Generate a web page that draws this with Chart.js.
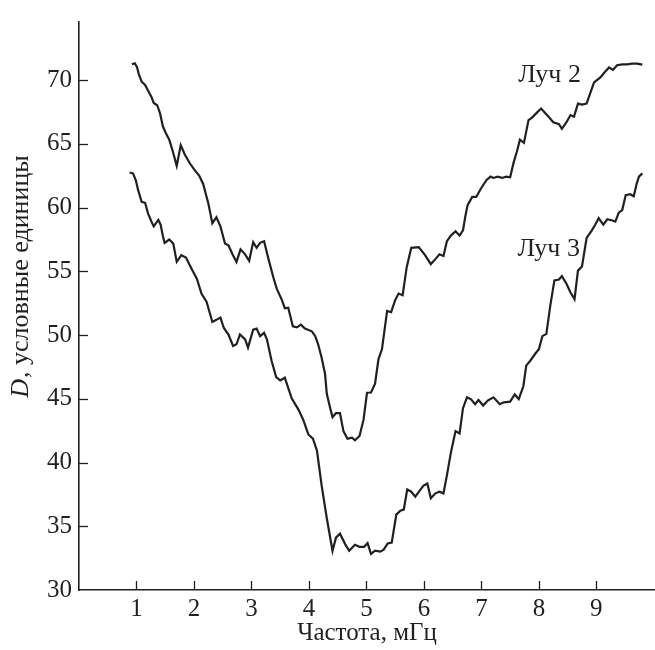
<!DOCTYPE html>
<html><head><meta charset="utf-8">
<script src="https://cdn.jsdelivr.net/npm/chart.js@4.4.1/dist/chart.umd.min.js"></script>
<style>html,body{margin:0;padding:0;background:#fff;}#wrap{width:655px;height:650px;position:relative;}</style>
</head><body><div id="wrap"><canvas id="c" width="655" height="650"></canvas></div>
<script>
const xTicks = [1,2,3,4,5,6,7,8,9];
const yTicks = [30,35,40,45,50,55,60,65,70];
const seriesNames = ['Луч 2','Луч 3'];
const xTitle = 'Частота, мГц';
const yTitleItalic = 'D';
const yTitleRest = ', условные единицы';

const beam2X = [0.92,0.97,1.01,1.04,1.09,1.15,1.2,1.26,1.3,1.36,
1.41,1.46,1.51,1.57,1.63,1.7,1.77,1.84,1.93,2.02,
2.09,2.16,2.25,2.32,2.39,2.46,2.54,2.6,2.67,2.74,
2.81,2.89,2.96,3.03,3.09,3.15,3.22,3.29,3.38,3.44,
3.53,3.58,3.64,3.72,3.79,3.86,3.93,4.05,4.11,4.16,
4.22,4.28,4.31,4.37,4.41,4.47,4.54,4.6,4.67,4.75,
4.8,4.88,4.95,5.01,5.08,5.15,5.21,5.27,5.36,5.43,
5.5,5.56,5.63,5.7,5.78,5.91,6.02,6.12,6.2,6.27,
6.34,6.4,6.47,6.55,6.62,6.68,6.72,6.76,6.84,6.91,
6.99,7.09,7.16,7.21,7.28,7.36,7.43,7.5,7.56,7.62,
7.67,7.74,7.82,7.88,7.97,8.04,8.1,8.17,8.25,8.35,
8.4,8.48,8.55,8.61,8.68,8.75,8.83,8.9,8.96,9.07,
9.14,9.22,9.29,9.36,9.45,9.54,9.62,9.71,9.8];
const beam2Y = [71.23,71.31,71.0,70.46,69.87,69.61,69.17,68.67,68.2,68.02,
67.38,66.35,65.84,65.32,64.43,63.27,64.89,64.16,63.45,62.89,
62.5,61.85,60.31,58.77,59.23,58.52,57.18,57.03,56.33,55.74,
56.72,56.33,55.82,57.28,56.84,57.23,57.36,56.07,54.53,53.64,
52.74,52.1,52.14,50.68,50.6,50.81,50.5,50.29,49.91,49.27,
48.24,46.96,45.41,44.26,43.56,43.87,43.87,42.46,41.87,41.95,
41.74,42.08,43.36,45.47,45.49,46.18,48.11,48.88,51.89,51.79,
52.74,53.25,53.12,55.3,56.84,56.9,56.26,55.56,55.95,56.33,
56.2,57.36,57.8,58.13,57.8,58.21,59.29,60.19,60.83,60.83,
61.47,62.16,62.42,62.32,62.42,62.32,62.42,62.37,63.52,64.43,
65.32,65.07,66.86,67.05,67.46,67.76,67.46,67.12,66.69,66.53,
66.17,66.69,67.25,67.12,68.15,68.07,68.15,69.05,69.82,70.21,
70.59,70.98,70.79,71.16,71.23,71.23,71.29,71.29,71.21];

const beam3X = [0.88,0.94,0.99,1.03,1.09,1.15,1.2,1.26,1.3,1.38,
1.42,1.46,1.49,1.57,1.64,1.7,1.78,1.86,1.96,2.05,
2.13,2.22,2.32,2.39,2.46,2.52,2.6,2.68,2.74,2.8,
2.89,2.94,3.03,3.09,3.15,3.22,3.27,3.35,3.43,3.5,
3.58,3.7,3.82,3.9,3.99,4.07,4.14,4.22,4.31,4.41,
4.47,4.54,4.63,4.7,4.8,4.88,4.96,5.02,5.08,5.15,
5.24,5.3,5.37,5.44,5.52,5.59,5.65,5.71,5.78,5.85,
5.92,5.99,6.06,6.12,6.2,6.27,6.34,6.4,6.47,6.55,
6.62,6.68,6.75,6.82,6.89,6.95,7.03,7.11,7.21,7.32,
7.39,7.5,7.58,7.65,7.73,7.78,7.85,7.94,8.0,8.06,
8.13,8.2,8.27,8.35,8.4,8.48,8.55,8.62,8.68,8.75,
8.83,8.91,8.98,9.04,9.12,9.19,9.28,9.33,9.39,9.45,
9.51,9.59,9.65,9.7,9.74,9.8];
const beam3Y = [62.75,62.68,62.11,61.34,60.44,60.37,59.54,58.9,58.52,59.03,
58.65,57.75,57.23,57.49,57.18,55.74,56.26,56.07,55.18,54.41,
53.25,52.6,51.02,51.19,51.37,50.55,50.04,49.14,49.27,50.04,
49.65,49.01,50.42,50.5,49.91,50.17,49.65,47.98,46.7,46.44,
46.65,45.03,44.13,43.36,42.2,41.87,40.92,38.22,35.65,33.08,
34.11,34.42,33.6,33.08,33.55,33.39,33.39,33.68,32.83,33.08,
33.01,33.16,33.65,33.72,35.91,36.22,36.3,37.88,37.71,37.32,
37.76,38.17,38.35,37.19,37.58,37.71,37.58,38.99,40.79,42.46,
42.28,44.26,45.11,44.95,44.57,44.9,44.47,44.85,45.11,44.57,
44.72,44.77,45.34,44.97,45.98,47.6,47.98,48.55,48.88,49.91,
50.09,52.35,54.28,54.35,54.61,54.02,53.33,52.81,55.05,55.38,
57.61,58.13,58.65,59.16,58.65,59.08,58.98,58.9,59.6,59.8,
60.96,61.04,60.88,61.85,62.42,62.68];

const INK = '#231f20';
const FONT = '"Liberation Serif", "Times New Roman", serif';
const toPts = (xs, ys) => xs.map((x, i) => ({x, y: ys[i]}));

// annotation anchors (data coordinates) for series labels
const labelAnchors = [{x: 7.643, y: 69.87}, {x: 7.626, y: 56.2}];

const decor = {
  id: 'decor',
  afterDraw(chart) {
    const ctx = chart.ctx, xs = chart.scales.x, ys = chart.scales.y, a = chart.chartArea;
    ctx.save();
    ctx.strokeStyle = INK; ctx.lineWidth = 1.3;
    xTicks.forEach(v => {
      const p = Math.round(xs.getPixelForValue(v)) + 0.5;
      ctx.beginPath(); ctx.moveTo(p, a.bottom); ctx.lineTo(p, a.bottom - 9); ctx.stroke();
    });
    yTicks.forEach(v => {
      if (v === ys.min) return;
      const p = Math.round(ys.getPixelForValue(v)) + 0.5;
      ctx.beginPath(); ctx.moveTo(a.left, p); ctx.lineTo(a.left + 9, p); ctx.stroke();
    });
    // series labels
    ctx.fillStyle = INK; ctx.font = '26px ' + FONT; ctx.textAlign = 'left'; ctx.textBaseline = 'alphabetic';
    seriesNames.forEach((n, i) => {
      ctx.fillText(n, xs.getPixelForValue(labelAnchors[i].x), ys.getPixelForValue(labelAnchors[i].y));
    });
    // y title
    ctx.translate(21, 277);
    ctx.rotate(-Math.PI / 2);
    ctx.textBaseline = 'middle';
    ctx.font = 'italic 26px ' + FONT;
    const w1 = ctx.measureText(yTitleItalic).width;
    ctx.font = '26px ' + FONT;
    const w2 = ctx.measureText(yTitleRest).width;
    const x0 = -(w1 + w2) / 2;
    ctx.font = 'italic 26px ' + FONT;
    ctx.fillText(yTitleItalic, x0, 0);
    ctx.font = '26px ' + FONT;
    ctx.fillText(yTitleRest, x0 + w1 + 1, 0);
    ctx.restore();
  }
};

new Chart(document.getElementById('c'), {
  type: 'line',
  data: {
    datasets: [
      {label: seriesNames[0], data: toPts(beam2X, beam2Y)},
      {label: seriesNames[1], data: toPts(beam3X, beam3Y)}
    ].map(d => Object.assign(d, {borderColor: INK, borderWidth: 2.2, pointRadius: 0, tension: 0, fill: false}))
  },
  options: {
    responsive: false, animation: false, devicePixelRatio: 1,
    layout: {padding: {top: 12, right: 0, left: 0, bottom: 0}},
    plugins: {legend: {display: false}, tooltip: {enabled: false}},
    scales: {
      x: {
        type: 'linear', min: 0, max: 10.02,
        afterBuildTicks(s) { s.ticks = xTicks.map(v => ({value: v})); },
        afterFit(s) { s.height = 60; },
        grid: {drawOnChartArea: false, drawTicks: false},
        border: {display: true, color: INK, width: 1.6},
        ticks: {font: {family: FONT, size: 25}, color: INK, padding: 4, maxRotation: 0, autoSkip: false},
        title: {display: true, text: xTitle, font: {family: FONT, size: 25}, color: INK, padding: {top: 0, bottom: 2}}
      },
      y: {
        type: 'linear', min: 30, max: 74.55,
        afterBuildTicks(s) { s.ticks = yTicks.map(v => ({value: v})); },
        afterFit(s) { s.width = 79; },
        grid: {drawOnChartArea: false, drawTicks: false},
        border: {display: true, color: INK, width: 1.6},
        ticks: {font: {family: FONT, size: 25}, color: INK, padding: 7, autoSkip: false}
      }
    }
  },
  plugins: [decor]
});
</script></body></html>
